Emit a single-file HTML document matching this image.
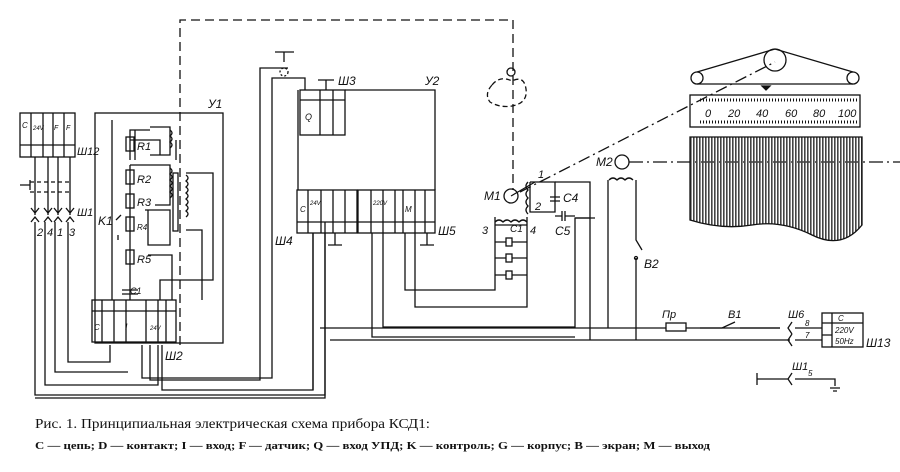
<!DOCTYPE html>
<html><head><meta charset="utf-8"><style>
html,body{margin:0;padding:0;background:#fff}
svg{display:block}
text{font-family:"Liberation Sans","DejaVu Sans",sans-serif;font-style:italic;fill:#111;stroke:none}
.c{font-style:normal;font-family:"Liberation Serif","DejaVu Serif",serif}
</style></head><body>
<svg width="900" height="472" viewBox="0 0 900 472" xmlns="http://www.w3.org/2000/svg" stroke="#111" fill="none" stroke-width="1.3">
<path d="M180 345 V20 H513 V190" stroke-dasharray="9,5"/>
<circle cx="511" cy="72" r="4"/>
<path d="M492 85 q8 -10 20 -4 q12 -6 14 8 q2 14 -14 17 q-12 2 -22 -4 q-6 -8 2 -17" stroke-dasharray="5,3"/>
<rect x="20" y="113" width="55" height="44"/>
<line x1="20" y1="145" x2="75" y2="145"/>
<path d="M31 113V157M43 113V157M53 113V157M64 113V157"/>
<text x="22" y="128" font-size="8">C</text><text x="33" y="130" font-size="6">24V</text><text x="54" y="130" font-size="7">F</text><text x="66" y="130" font-size="7">F</text>
<text x="77" y="155" font-size="11">Ш12</text>
<path d="M35 157V215M48 157V215M58 157V215M70 157V215"/>
<path d="M20 185H30M30 180V190" /><path d="M30 182H72M30 192H72" stroke-dasharray="4,3"/>
<path d="M31 208l4 5 4-5M44 208l4 5 4-5M54 208l4 5 4-5M66 208l4 5 4-5"/>
<path d="M31 222l4-5 4 5M44 222l4-5 4 5M54 222l4-5 4 5M66 222l4-5 4 5"/>
<text x="77" y="216" font-size="11">Ш1</text>
<text x="37" y="236" font-size="11">2</text><text x="47" y="236" font-size="11">4</text><text x="57" y="236" font-size="11">1</text><text x="69" y="236" font-size="11">3</text>
<path d="M35 222V395H325V222"/>
<path d="M45 222V385H158V345"/>
<path d="M55 222V372H128"/>
<path d="M68 222V362H110V345"/>
<path d="M150 345V380H260V68H288V68"/>
<path d="M142 345V378H272V78H305V90"/>
<path d="M162 345V390H313V233"/>
<rect x="95" y="113" width="128" height="230"/>
<text x="208" y="108" font-size="12">У1</text>
<rect x="92" y="300" width="84" height="42"/>
<line x1="92" y1="311" x2="176" y2="311"/>
<path d="M102 300V342M114 300V342M126 300V342M146 300V342M158 300V342M166 300V342"/>
<text x="94" y="330" font-size="8">C</text><text x="125" y="330" font-size="9">I</text><text x="150" y="330" font-size="6">24V</text>
<text x="165" y="360" font-size="12">Ш2</text>
<path d="M112 120V300M130 140H160V155M130 160V130H150M135 130V160"/>
<rect x="126" y="137" width="8" height="14"/><text x="137" y="150" font-size="11">R1</text>
<rect x="126" y="170" width="8" height="14"/><text x="137" y="183" font-size="11">R2</text>
<rect x="126" y="194" width="8" height="14"/><text x="137" y="206" font-size="11">R3</text>
<rect x="126" y="217" width="8" height="14"/><text x="137" y="230" font-size="8">R4</text>
<rect x="126" y="250" width="8" height="14"/><text x="137" y="263" font-size="11">R5</text>
<path d="M130 165V300M130 165H165M150 127H170V155H150M150 165H170V205H155"/>
<path d="M170 130q4 3 0 6q4 3 0 6q4 3 0 6M170 168q4 3 0 6q4 3 0 6q4 3 0 6q4 3 0 6q4 3 0 6"/>
<rect x="173" y="173" width="5" height="58"/>
<path d="M186 175q4 3 0 6q4 3 0 6q4 3 0 6q4 3 0 6q4 3 0 6q4 3 0 6q4 3 0 6M186 173H213V280H160V300M186 230H202V300"/>
<path d="M145 210H170V245H148V210M148 255H172V300M176 140V160"/>
<text x="98" y="225" font-size="12">K1</text>
<path d="M116 220l5-5M118 235V240"/>
<path d="M122 290H138M122 294H138"/><text x="130" y="294" font-size="9">C1</text>
<text x="275" y="245" font-size="12">Ш4</text>
<path d="M275 52H294M284 52V62"/><circle cx="284" cy="72" r="4" stroke-dasharray="2,2"/>
<path d="M345 90H435V190M298 90V190"/>
<rect x="300" y="90" width="45" height="45"/>
<path d="M300 100H345M320 90V135M333 90V135"/>
<text x="305" y="120" font-size="9">Q</text>
<text x="338" y="85" font-size="12">Ш3</text><text x="425" y="85" font-size="12">У2</text>
<path d="M318 80H334M326 80V90"/>
<rect x="297" y="190" width="60" height="43"/><rect x="358" y="190" width="77" height="43"/>
<line x1="297" y1="222" x2="435" y2="222"/>
<path d="M308 190V233M321 190V233M333 190V233M345 190V233M371 190V233M383 190V233M395 190V233M403 190V233M415 190V233M425 190V233"/>
<text x="300" y="212" font-size="8">C</text><text x="310" y="205" font-size="6">24V</text><text x="373" y="205" font-size="6">220V</text><text x="405" y="212" font-size="8">M</text>
<text x="438" y="235" font-size="12">Ш5</text>
<path d="M335 233V245M328 245H342M427 233V245M420 245H434"/>
<path d="M325 233V398H35M313 233V390"/>
<path d="M372 233V337H575M383 233V327H575V218H590M405 233V290H495V217M415 233V307H527V217"/>
<path d="M575 218H595"/>
<circle cx="511" cy="196" r="7"/><text x="484" y="200" font-size="12">M1</text>
<path d="M511 196L535 182"/>
<path d="M530 182V212H555V182H530M528 182q-4 4 0 8q-4 4 0 8q-4 4 0 8q-4 4 0 8"/>
<text x="538" y="178" font-size="11">1</text><text x="535" y="210" font-size="11">2</text>
<path d="M550 197H560M550 201H560M555 182H590V340"/><text x="563" y="202" font-size="12">C4</text>
<path d="M555 216H562M562 211V221M565 211V221M565 216H575"/><text x="555" y="235" font-size="12">C5</text>
<path d="M495 225H527M495 222q4-4 8 0q4-4 8 0q4-4 8 0q4-4 8 0"/>
<text x="482" y="234" font-size="11">3</text><text x="510" y="232" font-size="10">C1</text><text x="530" y="234" font-size="11">4</text>
<path d="M495 242H527M495 258H527M495 275H527"/>
<rect x="506" y="238" width="6" height="8" fill="#fff"/><rect x="506" y="254" width="6" height="8" fill="#fff"/><rect x="506" y="271" width="6" height="8" fill="#fff"/>
<circle cx="622" cy="162" r="7"/><text x="596" y="166" font-size="12">M2</text>
<path d="M629 162H900" stroke-dasharray="14,4,2,4"/>
<path d="M609 180q4-4 8 0q4-4 8 0q4-4 8 0M608 180V328M636 180V240L642 250M636 258V340"/>
<circle cx="636" cy="258" r="1.5"/><text x="644" y="268" font-size="12">B2</text>
<path d="M520 192L775 62" stroke-dasharray="12,4,2,4"/>
<circle cx="775" cy="60" r="11"/><circle cx="697" cy="78" r="6"/><circle cx="853" cy="78" r="6"/>
<path d="M697 72L775 49L853 72M697 84H853"/>
<path d="M762 86l4 4 4-4z" fill="#111"/>
<rect x="690" y="95" width="170" height="32"/>
<path d="M700 100H858M700 122H858" stroke-dasharray="1,2" stroke-width="3"/>
<text x="705" y="117" font-size="11" font-style="normal">0</text><text x="728" y="117" font-size="11" font-style="normal">20</text><text x="756" y="117" font-size="11" font-style="normal">40</text><text x="785" y="117" font-size="11" font-style="normal">60</text><text x="813" y="117" font-size="11" font-style="normal">80</text><text x="838" y="117" font-size="11" font-style="normal">100</text>
<defs><pattern id="h" width="3" height="6" patternUnits="userSpaceOnUse"><rect width="1.6" height="6" fill="#444" stroke="none"/></pattern></defs>
<path d="M690 137H862V225q-20 25 -50 10q-30 -15 -60 -10q-30 5 -62 -5Z" fill="url(#h)"/>
<path d="M320 328H780M330 340H790"/>
<rect x="666" y="323" width="20" height="8" fill="#fff"/><text x="662" y="318" font-size="11">Пр</text>
<path d="M700 328H722L735 322M740 328H780"/><text x="728" y="318" font-size="11">B1</text>
<path d="M792 322l-4 6 4 6M792 334l-4 6 4 6M795 328H822M795 340H822"/>
<text x="788" y="318" font-size="11">Ш6</text><text x="805" y="326" font-size="8">8</text><text x="805" y="338" font-size="8">7</text>
<rect x="822" y="313" width="41" height="34"/><path d="M822 323H863M832 313V347M822 335H832"/>
<text x="838" y="321" font-size="8">C</text><text x="835" y="333" font-size="8">220V</text><text x="835" y="344" font-size="8">50Hz</text>
<text x="866" y="347" font-size="12">Ш13</text>
<path d="M757 373V385M757 379H788M792 373l-4 6 4 6M795 379H835V386M830 388H840M833 391H837"/>
<text x="792" y="370" font-size="11">Ш1</text><text x="808" y="376" font-size="8">5</text>
<text x="35" y="428" font-size="14" class="c" textLength="395" lengthAdjust="spacingAndGlyphs">Рис. 1. Принципиальная электрическая схема прибора КСД1:</text>
<text x="35" y="449" font-size="10" class="c" font-weight="bold" textLength="675" lengthAdjust="spacingAndGlyphs">C — цепь;  D — контакт;  I — вход;   F — датчик;  Q — вход  УПД;  K — контроль;   G — корпус;  B — экран;  M — выход</text>
</svg>
</body></html>
